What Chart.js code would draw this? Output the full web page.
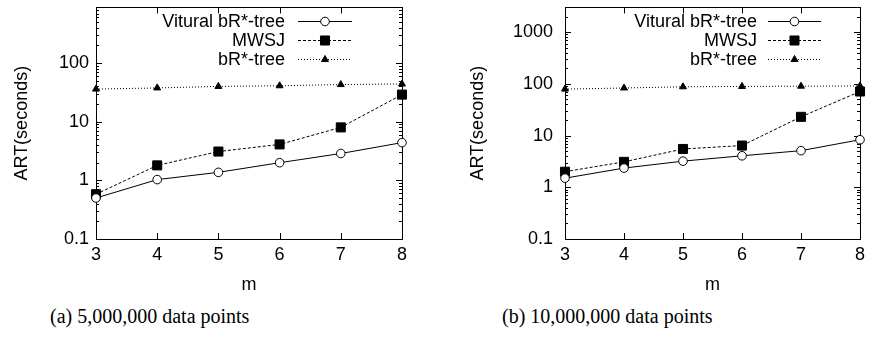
<!DOCTYPE html>
<html>
<head>
<meta charset="utf-8">
<script src="https://cdn.jsdelivr.net/npm/chart.js@4/dist/chart.umd.min.js"></script>
<style>
  html, body { margin: 0; padding: 0; background: #fff; }
  #wrap { position: relative; width: 869px; height: 345px; overflow: hidden; }
  .box { position: absolute; top: 0; height: 300px; }
  .cap { position: absolute; top: 305px; font-family: "Liberation Serif", "DejaVu Serif", serif; font-size: 20px; color: #000; white-space: nowrap; }
</style>
</head>
<body>
<div id="wrap">
  <div class="box" style="left:0;width:435px;"><canvas id="chartA"></canvas></div>
  <div class="box" style="left:435px;width:434px;"><canvas id="chartB"></canvas></div>
  <div class="cap" style="left:50px;">(a) 5,000,000 data points</div>
  <div class="cap" style="left:502px;">(b) 10,000,000 data points</div>
</div>
<script>
// data
const mValues = [3, 4, 5, 6, 7, 8];
const seriesNames = ['Vitural bR*-tree', 'MWSJ', 'bR*-tree'];

const virtualA = [0.5, 1.03, 1.37, 2.0, 2.87, 4.4];
const mwsjA = [0.58, 1.8, 3.1, 4.1, 8.0, 29];
const brtreeA = [36, 37.7, 40, 41, 43, 44];

const virtualB = [1.5, 2.35, 3.2, 4.06, 5.1, 8.3];
const mwsjB = [2.0, 3.1, 5.5, 6.4, 23, 71];
const brtreeB = [79, 83, 87.6, 89, 90, 91];

const yTicksA = [0.1, 1, 10, 100];
const yTicksB = [0.1, 1, 10, 100, 1000];

const FONT = '"Liberation Sans", Arial, sans-serif';
const FSIZE = 18;

function pts(vals) {
    return mValues.map((m, i) => ({ x: m, y: vals[i] }));
}

// gnuplot-like frame with inward ticks on all four sides
const framePlugin = {
    id: 'frame',
    beforeDatasetsDraw(chart) {
        const { ctx, chartArea: a, scales } = chart;
        const xs = scales.x, ys = scales.y;
        ctx.save();
        ctx.strokeStyle = '#000';
        ctx.lineWidth = 1;
        ctx.setLineDash([]);
        ctx.beginPath();
        mValues.forEach(m => {
            const px = Math.round(xs.getPixelForValue(m)) + 0.5;
            ctx.moveTo(px, a.bottom); ctx.lineTo(px, a.bottom - 6);
            ctx.moveTo(px, a.top); ctx.lineTo(px, a.top + 6);
        });
        const decades = chart.options.scales.y.decades;
        decades.forEach(d => {
            for (let k = 1; k <= 9; k++) {
                const v = d * k;
                if (v > ys.max || v < ys.min) continue;
                const len = k === 1 ? 6 : 3;
                const py = Math.round(ys.getPixelForValue(v)) + 0.5;
                ctx.moveTo(a.left, py); ctx.lineTo(a.left + len, py);
                ctx.moveTo(a.right, py); ctx.lineTo(a.right - len, py);
            }
        });
        ctx.stroke();
        ctx.strokeRect(Math.round(a.left) + 0.5, Math.round(a.top) + 0.5,
            Math.round(a.right - a.left), Math.round(a.bottom - a.top));
        ctx.restore();
    }
};

// legend inside the top-right corner: text, then line sample with marker
const keyPlugin = {
    id: 'key',
    afterDraw(chart, args, opts) {
        const ctx = chart.ctx;
        ctx.save();
        ctx.font = FSIZE + 'px ' + FONT;
        ctx.textAlign = 'right';
        ctx.textBaseline = 'middle';
        chart.data.datasets.forEach((ds, i) => {
            const y = opts.top + i * 19;
            ctx.fillStyle = '#000';
            ctx.fillText(ds.label, opts.textRight, y + 1);
            ctx.beginPath();
            ctx.strokeStyle = '#000';
            ctx.lineWidth = 1;
            ctx.setLineDash(ds.borderDash || []);
            ctx.moveTo(opts.lineLeft, y + 0.5);
            ctx.lineTo(opts.lineRight, y + 0.5);
            ctx.stroke();
            ctx.setLineDash([]);
            ctx.fillStyle = ds.pointBackgroundColor;
            ctx.strokeStyle = '#000';
            Chart.helpers.drawPoint(ctx, {
                pointStyle: ds.pointStyle, radius: ds.pointRadius, borderWidth: 1, rotation: 0
            }, (opts.lineLeft + opts.lineRight) / 2, y + 0.5);
        });
        ctx.restore();
    }
};

function makeChart(id, v, w, b, yMax, yTicks, cfg) {
    return new Chart(document.getElementById(id), {
        type: 'line',
        data: {
            datasets: [
                { label: seriesNames[0], data: pts(v), borderColor: '#000', borderWidth: 1,
                  pointStyle: 'circle', pointRadius: 4.3, pointBackgroundColor: '#fff',
                  pointBorderColor: '#000', pointBorderWidth: 1, clip: false },
                { label: seriesNames[1], data: pts(w), borderColor: '#000', borderWidth: 1,
                  borderDash: [3, 2], pointStyle: 'rect', pointRadius: 6.4,
                  pointBackgroundColor: '#000', pointBorderColor: '#000', pointBorderWidth: 1, clip: false },
                { label: seriesNames[2], data: pts(b), borderColor: '#000', borderWidth: 1,
                  borderDash: [1, 2], pointStyle: 'triangle', pointRadius: 4,
                  pointBackgroundColor: '#000', pointBorderColor: '#000', pointBorderWidth: 1, clip: false }
            ]
        },
        options: {
            responsive: false,
            animation: false,
            devicePixelRatio: 1,
            layout: { padding: { left: 0, right: cfg.padRight, top: cfg.padTop, bottom: 0 } },
            plugins: {
                legend: { display: false },
                tooltip: { enabled: false },
                key: cfg.key
            },
            scales: {
                x: {
                    type: 'linear', min: 3, max: 8,
                    grid: { display: false, drawTicks: false },
                    border: { display: false },
                    afterBuildTicks: s => { s.ticks = mValues.map(m => ({ value: m })); },
                    afterFit: s => { s.height = 61; s.paddingLeft = 0; s.paddingRight = 0; },
                    ticks: { color: '#000', padding: 5, font: { family: FONT, size: FSIZE } },
                    title: { display: true, text: 'm', color: '#000', padding: { top: 0, bottom: 4 },
                             font: { family: FONT, size: FSIZE } }
                },
                y: {
                    type: 'logarithmic', min: 0.1, max: yMax,
                    decades: yTicks,
                    grid: { display: false, drawTicks: false },
                    border: { display: false },
                    afterBuildTicks: s => { s.ticks = yTicks.map(t => ({ value: t })); },
                    afterFit: s => { s.width = cfg.yWidth; s.paddingTop = 0; s.paddingBottom = 0; },
                    ticks: { color: '#000', padding: cfg.tickPad, font: { family: FONT, size: FSIZE },
                             callback: val => String(val) },
                    title: { display: true, text: 'ART(seconds)', color: '#000',
                             padding: { top: cfg.titlePad, bottom: 0 },
                             font: { family: FONT, size: FSIZE } }
                }
            }
        },
        plugins: [framePlugin, keyPlugin]
    });
}

document.getElementById('chartA').width = 435;
document.getElementById('chartA').height = 300;
document.getElementById('chartB').width = 434;
document.getElementById('chartB').height = 300;

makeChart('chartA', virtualA, mwsjA, brtreeA, 890, yTicksA,
    { padRight: 33, padTop: 6, yWidth: 96, titlePad: 11, tickPad: 7,
      key: { top: 21, textRight: 285, lineLeft: 298, lineRight: 352 } });
makeChart('chartB', virtualB, mwsjB, brtreeB, 3000, yTicksB,
    { padRight: 9, padTop: 7, yWidth: 130, titlePad: 32, tickPad: 12,
      key: { top: 21, textRight: 322, lineLeft: 333, lineRight: 386 } });
</script>
</body>
</html>
